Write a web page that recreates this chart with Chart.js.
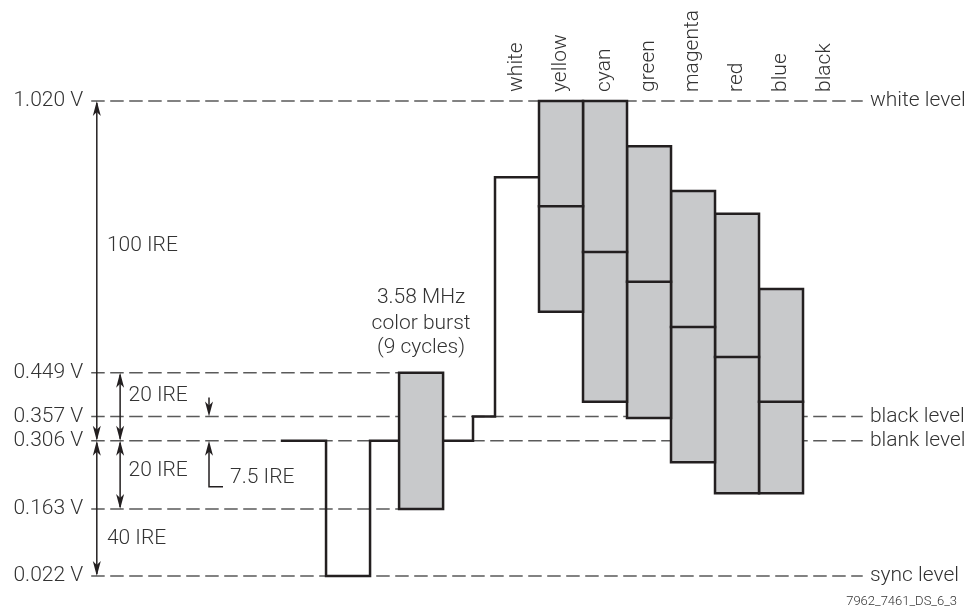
<!DOCTYPE html>
<html>
<head>
<meta charset="utf-8">
<script src="https://cdn.jsdelivr.net/npm/chart.js@4"></script>
<style>html,body{margin:0;padding:0;background:#fff}</style>
</head>
<body>
<canvas id="c" width="970" height="610"></canvas>
<script>
// voltage levels (V) marked on the left, and the dashed lines at them
const levelValues = [1.020, 0.449, 0.357, 0.306, 0.163, 0.022];
const levelLabels = ['1.020 V', '0.449 V', '0.357 V', '0.306 V', '0.163 V', '0.022 V'];
const levelEnds = [8.34, -2.18, 8.34, 8.34, -2.18, 8.34]; // x in bar widths, white bar starts at 0
const levelNames = ['white level', '', 'black level', 'blank level', '', 'sync level'];

// colour bars: luminance and chroma top/bottom
const barNames = ['white', 'yellow', 'cyan', 'green', 'magenta', 'red', 'blue', 'black'];
const barLuma = [0.860, 0.799, 0.703, 0.640, 0.545, 0.482, 0.388, 0.357];
const barTop = [null, 1.020, 1.020, 0.925, 0.831, 0.783, 0.625, null];
const barBottom = [null, 0.577, 0.388, 0.354, 0.261, 0.196, 0.196, null];

// sync pulse, burst, back porch (x in bar widths)
const syncX = [-4.84, -3.84, -3.84, -2.84, -2.84, -2.18];
const syncY = [0.306, 0.306, 0.022, 0.022, 0.306, 0.306];
const porchX = [-1.18, -0.5, -0.5, 0, 0, 1];
const porchY = [0.306, 0.306, 0.357, 0.357, 0.860, 0.860];
const burstX = [-2.18, -1.18];
const burstY = [0.163, 0.449];

// IRE spans: [from, to, text]
const ireMain = [[1.020, 0.306, '100 IRE'], [0.306, 0.022, '40 IRE']];
const ireSmall = [[0.449, 0.306, '20 IRE'], [0.306, 0.163, '20 IRE']];

const INK = '#231f20', GREY = '#c8c9cb', DASH = '#5a5a5a', TXT = '#333';
const FONT = '300 21px Roboto';

function pts(xs, ys){ return xs.map((v,i)=>({x:v, y:ys[i]})); }
function rect(x0, x1, y0, y1){ return [{x:x0,y:y0},{x:x0,y:y1},{x:x1,y:y1},{x:x1,y:y0},{x:x0,y:y0}]; }

const datasets = [];
levelValues.forEach((v,i)=>{
    datasets.push({data:[{x:-9.16,y:v},{x:levelEnds[i],y:v}], borderColor:DASH, borderWidth:1.5, borderDash:[12,7], order:5});
});
datasets.push({data:pts(syncX, syncY), borderColor:INK, borderWidth:2.5, order:4});
datasets.push({data:pts(porchX, porchY), borderColor:INK, borderWidth:2.5, order:4});
datasets.push({data:rect(burstX[0], burstX[1], burstY[0], burstY[1]), borderColor:INK, borderWidth:2.5,
    fill:'shape', backgroundColor:GREY, order:3});
barNames.forEach((n,i)=>{
    if(barTop[i] === null) return;
    datasets.push({data:rect(i, i+1, barBottom[i], barTop[i]), borderColor:INK, borderWidth:2.5,
        fill:'shape', backgroundColor:GREY, order:2});
    datasets.push({data:[{x:i,y:barLuma[i]},{x:i+1,y:barLuma[i]}], borderColor:INK, borderWidth:2.5, order:1});
});
datasets.forEach(d=>{ d.showLine = true; d.pointRadius = 0; d.borderCapStyle = 'square'; d.borderJoinStyle = 'miter'; if(!d.fill) d.fill = false; });

function head(ctx, x, y, dir){
    // dir -1: pointing up, +1: pointing down; tip at (x,y)
    ctx.beginPath();
    ctx.moveTo(x, y);
    ctx.lineTo(x-4, y - dir*15);
    ctx.lineTo(x, y - dir*11);
    ctx.lineTo(x+4, y - dir*15);
    ctx.closePath();
    ctx.fill();
}
function dbl(ctx, x, y0, y1){
    ctx.beginPath(); ctx.moveTo(x, y0+2); ctx.lineTo(x, y1-2); ctx.stroke();
    head(ctx, x, y0, -1); head(ctx, x, y1, 1);
}

const annotate = {
    id: 'annotate',
    afterDatasetsDraw(chart){
        const ctx = chart.ctx;
        const X = v => chart.scales.x.getPixelForValue(v);
        const Y = v => chart.scales.y.getPixelForValue(v);
        ctx.save();
        ctx.fillStyle = TXT; ctx.strokeStyle = INK; ctx.lineWidth = 1.5;
        ctx.font = FONT;
        ctx.textBaseline = 'middle';

        ctx.textAlign = 'right';
        levelValues.forEach((v,i)=> ctx.fillText(levelLabels[i], X(-9.36), Y(v)));
        ctx.textAlign = 'left';
        levelValues.forEach((v,i)=>{ if(levelNames[i]) ctx.fillText(levelNames[i], X(8.52), Y(v)); });

        // IRE arrows
        ctx.fillStyle = INK;
        ireMain.forEach(s=> dbl(ctx, X(-9.05), Y(s[0]), Y(s[1])));
        ireSmall.forEach(s=> dbl(ctx, X(-8.52), Y(s[0]), Y(s[1])));
        // 7.5 IRE
        const ax = X(-6.5);
        ctx.beginPath(); ctx.moveTo(ax, Y(0.357)-19); ctx.lineTo(ax, Y(0.357)-4); ctx.stroke();
        head(ctx, ax, Y(0.357), 1);
        ctx.beginPath(); ctx.moveTo(ax, Y(0.306)+4); ctx.lineTo(ax, Y(0.306)+46); ctx.lineTo(ax+14, Y(0.306)+46); ctx.stroke();
        head(ctx, ax, Y(0.306), -1);

        ctx.fillStyle = TXT;
        ctx.fillText(ireMain[0][2], X(-8.82), Y(0.715));
        ctx.fillText(ireMain[1][2], X(-8.82), Y(0.100));
        ctx.fillText(ireSmall[0][2], X(-8.33), Y(0.400));
        ctx.fillText(ireSmall[1][2], X(-8.33), Y(0.243));
        ctx.fillText('7.5 IRE', X(-6.02), Y(0.228));

        ctx.textAlign = 'center';
        const bx = (burstX[0] + burstX[1]) / 2;
        ctx.fillText('3.58 MHz', X(bx), Y(0.606));
        ctx.fillText('color burst', X(bx), Y(0.553));
        ctx.fillText('(9 cycles)', X(bx), Y(0.501));

        // bar names, rotated
        ctx.textAlign = 'left';
        barNames.forEach((n,i)=>{
            ctx.save();
            ctx.translate(X(i+0.5), Y(1.020) - 9);
            ctx.rotate(-Math.PI/2);
            ctx.fillText(n, 0, 0);
            ctx.restore();
        });

        ctx.font = '300 13px Roboto';
        ctx.textAlign = 'right';
        ctx.fillText('7962_7461_DS_6_3', chart.width - 13, chart.height - 8);
        ctx.restore();
    }
};

new Chart(document.getElementById('c'), {
    type: 'scatter',
    data: { datasets },
    options: {
        responsive: false,
        animation: false,
        events: [],
        layout: { padding: 0 },
        plugins: { legend: {display:false}, tooltip: {enabled:false} },
        scales: {
            x: { type:'linear', display:false, min:-11.25, max:10.795 },
            y: { type:'linear', display:false, min:-0.0494, max:1.2322 }
        }
    },
    plugins: [annotate]
});
</script>
</body>
</html>
